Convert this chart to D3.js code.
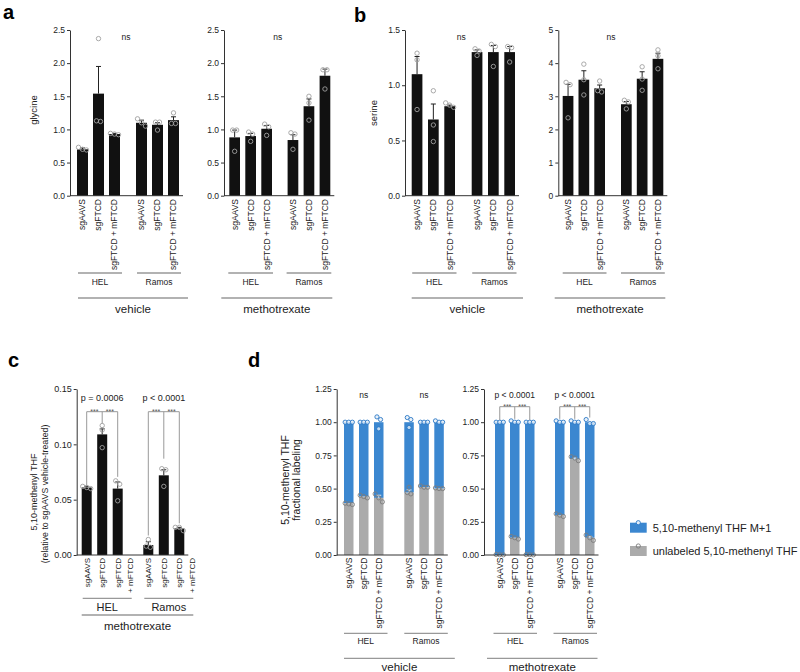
<!DOCTYPE html>
<html><head><meta charset="utf-8">
<script src="https://cdn.jsdelivr.net/npm/d3@7"></script>
<style>body{margin:0;background:#fff} svg{display:block}</style>
</head><body><svg id="c" width="800" height="672"></svg>
<script>
const conditions = ["sgAAVS","sgFTCD","sgFTCD + mFTCD"];
const cellLines = ["HEL","Ramos"];
const treatments = ["vehicle","methotrexate"];

// Panel a: glycine
const glyVehMean = [0.70, 1.54, 0.93, 1.10, 1.07, 1.14];
const glyVehErr  = [0.02, 0.41, 0.01, 0.04, 0.03, 0.05];
const glyVehPts  = [[0.73,0.70,0.69],[2.37,1.13,1.12],[0.94,0.92,0.93],[1.16,1.05,1.10],[1.11,1.11,0.99],[1.25,1.09,1.09]];
const glyMtxMean = [0.88, 0.90, 1.01, 0.84, 1.35, 1.81];
const glyMtxErr  = [0.11, 0.04, 0.05, 0.08, 0.11, 0.10];
const glyMtxPts  = [[0.99,0.99,0.67],[0.96,0.93,0.82],[1.08,1.04,0.91],[0.93,0.95,0.70],[1.50,1.40,1.14],[1.90,1.90,1.61]];
// Panel b: serine
const serVehMean = [1.10, 0.69, 0.81, 1.30, 1.30, 1.30];
const serVehErr  = [0.16, 0.14, 0.01, 0.02, 0.06, 0.05];
const serVehPts  = [[1.29,1.23,0.78],[0.95,0.64,0.49],[0.84,0.82,0.80],[1.33,1.31,1.27],[1.37,1.35,1.17],[1.35,1.34,1.21]];
const serMtxMean = [3.01, 3.50, 3.24, 2.76, 3.53, 4.13];
const serMtxErr  = [0.35, 0.27, 0.10, 0.08, 0.21, 0.17];
const serMtxPts  = [[3.42,3.35,2.35],[3.97,3.50,3.04],[3.46,3.17,3.13],[2.88,2.83,2.62],[3.89,3.52,3.18],[4.40,4.22,3.83]];
// Panel c: 5,10-methenyl THF relative
const thfMean = [0.061, 0.109, 0.060, 0.009, 0.072, 0.024];
const thfErr  = [0.001, 0.005, 0.006, 0.003, 0.005, 0.001];
const thfPts  = [[0.062,0.061,0.060],[0.117,0.113,0.097],[0.067,0.064,0.049],[0.014,0.008,0.007],[0.078,0.077,0.062],[0.025,0.025,0.022]];
// Panel d: fractional labeling (unlabeled fraction; M+1 = remainder to 1)
const unlVehMean = [0.39, 0.44, 0.43, 0.47, 0.51, 0.50];
const unlVehErr  = [0.003, 0.005, 0.02, 0.02, 0.003, 0.003];
const unlVehPts  = [[0.39,0.385,0.38],[0.45,0.44,0.43],[0.46,0.43,0.40],[0.51,0.47,0.46],[0.52,0.51,0.51],[0.505,0.50,0.50]];
const labVehPts  = [[1.0,1.0,1.0],[1.0,1.0,1.0],[1.04,1.02,0.95],[1.035,1.02,0.96],[1.0,1.0,1.0],[1.01,1.0,1.0]];
const unlMtxMean = [0.00, 0.13, 0.00, 0.30, 0.72, 0.13];
const unlMtxErr  = [0, 0.005, 0, 0.005, 0.01, 0.01];
const unlMtxPts  = [[0.004,0.002,0.001],[0.14,0.13,0.12],[0.003,0.002,0.001],[0.31,0.30,0.29],[0.74,0.73,0.71],[0.15,0.13,0.11]];
const labMtxPts  = [[1.0,1.0,1.0],[1.01,1.0,1.0],[1.0,1.0,1.0],[1.01,1.0,1.0],[1.01,1.0,1.0],[1.02,0.99,0.99]];
const legendLabels = ["5,10-methenyl THF M+1","unlabeled 5,10-methenyl THF"];

const FONT = "'Liberation Sans', Arial, Helvetica, sans-serif";
const BLUE = "#3b87d0", GREY = "#ababab";
const svg = d3.select("#c").attr("font-family", FONT);

function offsets(vals, y, sp) {
  const idx = vals.map((v,i)=>i).sort((a,b)=>y(vals[a])-y(vals[b]));
  const out = new Array(vals.length).fill(0);
  const clusters = []; let cur = [idx[0]];
  for (let k=1;k<idx.length;k++){
    if (Math.abs(y(vals[idx[k]]) - y(vals[cur[cur.length-1]])) < 4) cur.push(idx[k]);
    else { clusters.push(cur); cur=[idx[k]]; }
  }
  clusters.push(cur);
  clusters.forEach(c=>c.forEach((j,k)=>{ out[j]=(k-(c.length-1)/2)*sp; }));
  return out;
}

function drawPanel(cfg) {
  const g = svg.append("g");
  const gw = 2*cfg.step + cfg.bw;
  const x0 = d3.scaleBand().domain(cellLines)
    .range([cfg.axisX+cfg.off, cfg.axisX+cfg.off+2*gw+cfg.gap])
    .paddingInner(cfg.gap/(gw+cfg.gap)).paddingOuter(0);
  const x1 = d3.scaleBand().domain(conditions).range([0,gw])
    .paddingInner(1-cfg.bw/cfg.step).paddingOuter(0);
  const y = d3.scaleLinear().domain([0,cfg.max]).range([cfg.yBottom,cfg.yTop]);
  const bw = x1.bandwidth();
  const items = [];
  cellLines.forEach((cl,gi)=>conditions.forEach((cd,ci)=>{
    const i = gi*3+ci, left = x0(cl)+x1(cd);
    items.push({cl,cd,i,left,cx:left+bw/2});
  }));

  // y axis
  const ax = g.append("g").attr("transform",`translate(${cfg.axisX},0)`)
    .call(d3.axisLeft(y).tickValues(cfg.ticks).tickFormat(cfg.fmt).tickSize(3).tickSizeOuter(0));
  ax.attr("font-family",FONT).attr("font-size",cfg.tickFont);
  ax.select(".domain").attr("stroke","#333");
  ax.selectAll(".tick line").attr("stroke","#333");
  ax.selectAll(".tick text").attr("fill","#222").attr("x",-5);

  if (!cfg.stacked) {
    g.selectAll("rect.bar").data(items).join("rect").attr("class","bar")
      .attr("x",d=>d.left).attr("width",bw)
      .attr("y",d=>y(cfg.means[d.i])).attr("height",d=>y(0)-y(cfg.means[d.i]))
      .attr("fill","#111");
    items.forEach(d=>{
      const m = cfg.means[d.i], t = y(m+cfg.errs[d.i]);
      g.append("line").attr("x1",d.cx).attr("x2",d.cx).attr("y1",y(m)).attr("y2",t).attr("stroke","#222").attr("stroke-width",1);
      g.append("line").attr("x1",d.cx-2.5).attr("x2",d.cx+2.5).attr("y1",t).attr("y2",t).attr("stroke","#222").attr("stroke-width",1);
      const off = offsets(cfg.pts[d.i], y, 4);
      cfg.pts[d.i].forEach((v,k)=>{
        g.append("circle").attr("cx",d.cx+off[k]).attr("cy",y(v)).attr("r",2.2)
          .attr("fill","none").attr("stroke","#a0a0a0").attr("stroke-width",0.9);
      });
    });
  } else {
    items.forEach(d=>{
      const u = cfg.means[d.i];
      g.append("rect").attr("x",d.left).attr("width",bw).attr("y",y(1)).attr("height",y(u)-y(1)).attr("fill",BLUE);
      g.append("rect").attr("x",d.left).attr("width",bw).attr("y",y(u)).attr("height",y(0)-y(u)).attr("fill",GREY);
      if (cfg.errs[d.i] > 0.008) {
        const t = y(u+cfg.errs[d.i]);
        g.append("line").attr("x1",d.cx).attr("x2",d.cx).attr("y1",y(u)).attr("y2",t).attr("stroke","#f2f2f2").attr("stroke-width",0.9);
        g.append("line").attr("x1",d.cx-2.5).attr("x2",d.cx+2.5).attr("y1",t).attr("y2",t).attr("stroke","#f2f2f2").attr("stroke-width",0.9);
      }
      const offU = offsets(cfg.pts[d.i], y, 3.6);
      cfg.pts[d.i].forEach((v,k)=>{
        g.append("circle").attr("cx",d.cx+offU[k]).attr("cy",y(v)).attr("r",2.1)
          .attr("fill","none").attr("stroke","#7d7d7d").attr("stroke-width",0.9);
      });
      const offL = offsets(cfg.lab[d.i], y, 3.6);
      cfg.lab[d.i].forEach((v,k)=>{
        g.append("circle").attr("cx",d.cx+offL[k]).attr("cy",y(v)).attr("r",2.1)
          .attr("fill","#e4eef8").attr("fill-opacity",0.8).attr("stroke","#2a78c6").attr("stroke-width",0.9);
      });
    });
  }

  // x axis line
  const xEnd = x0("Ramos")+gw+4;
  g.append("line").attr("x1",cfg.axisX).attr("x2",xEnd).attr("y1",y(0)).attr("y2",y(0)).attr("stroke","#333");

  // category labels
  items.forEach(d=>{
    const lines = (cfg.twoLine && d.cd.includes("+")) ? ["sgFTCD","+ mFTCD"] : [d.cd];
    lines.forEach((ln,k)=>{
      g.append("text").attr("transform",`translate(${d.cx+0.35*cfg.catFont+k*12.4},${cfg.catY}) rotate(-90)`)
        .attr("text-anchor","end").attr("font-size",cfg.catFont).attr("fill","#222").text(ln);
    });
  });

  // group lines & labels
  cellLines.forEach(cl=>{
    const a = x0(cl)+cfg.gl[0], b = x0(cl)+gw+cfg.gl[1];
    g.append("line").attr("x1",a).attr("x2",b).attr("y1",cfg.groupLineY).attr("y2",cfg.groupLineY)
      .attr("stroke","#999").attr("stroke-width",1.3);
    g.append("text").attr("x",(a+b)/2).attr("y",cfg.groupLabelY).attr("text-anchor","middle")
      .attr("font-size",cfg.groupFont).attr("fill","#222").text(cl);
  });
  const ta = x0("HEL")+cfg.tl[0], tb = x0("Ramos")+gw+cfg.tl[1];
  g.append("line").attr("x1",ta).attr("x2",tb).attr("y1",cfg.treatLineY).attr("y2",cfg.treatLineY)
    .attr("stroke","#999").attr("stroke-width",1.3);
  g.append("text").attr("x",(ta+tb)/2).attr("y",cfg.treatLabelY).attr("text-anchor","middle")
    .attr("font-size",cfg.treatFont).attr("fill","#222").text(cfg.treatment);

  // annotations
  if (cfg.ns) {
    cfg.ns.forEach(n=>{
      const xx = n.at==="mid" ? (x0("HEL")+gw+x0("Ramos"))/2-2 : x0(n.at)+x1("sgFTCD")+bw/2;
      g.append("text").attr("x",xx).attr("y",cfg.nsY).attr("text-anchor","middle")
        .attr("font-size",cfg.nsFont).attr("fill","#222").text(n.text);
    });
  }
  if (cfg.brackets) {
    cfg.brackets.forEach(b=>{
      const its = items.filter(d=>d.cl===b.group);
      const by = cfg.bracketY;
      g.append("line").attr("x1",its[0].cx).attr("x2",its[2].cx).attr("y1",by).attr("y2",by).attr("stroke","#999");
      its.forEach((d,k)=>{
        const topVal = cfg.stacked ? Math.max(...cfg.lab[d.i]) : Math.max(...cfg.pts[d.i], cfg.means[d.i]+cfg.errs[d.i]);
        const endY = y(topVal) - (b.gaps ? b.gaps[k] : 3);
        g.append("line").attr("x1",d.cx).attr("x2",d.cx).attr("y1",by).attr("y2",endY).attr("stroke","#999");
      });
      [0,1].forEach(k=>{
        g.append("text").attr("x",(its[k].cx+its[k+1].cx)/2).attr("y",by+2.5).attr("text-anchor","middle")
          .attr("font-size",7).attr("fill","#555").text("***");
      });
      g.append("text").attr("x",its[1].cx).attr("y",cfg.pY).attr("text-anchor","middle")
        .attr("font-size",cfg.pFont).attr("fill","#222").text(b.text);
    });
  }
  return {x0,x1,y};
}

const common_ab = {tickFont:8.5, catFont:8.5, catY:199, groupLineY:273, groupLabelY:285.3, treatLineY:298,
  treatLabelY:312.8, groupFont:8.5, treatFont:11.5, yBottom:195.7, yTop:30, nsY:40, nsFont:8.5};

drawPanel(Object.assign({}, common_ab, {axisX:70, off:7, bw:11, step:16, gap:16, max:2.5,
  ticks:[0,0.5,1,1.5,2,2.5], fmt:d3.format(".1f"), means:glyVehMean, errs:glyVehErr, pts:glyVehPts,
  treatment:treatments[0], gl:[1,2], tl:[1,9], ns:[{at:"mid",text:"ns"}]}));
drawPanel(Object.assign({}, common_ab, {axisX:224, off:5.3, bw:10.7, step:16, gap:15.6, max:2.5,
  ticks:[0,0.5,1,1.5,2,2.5], fmt:d3.format(".1f"), means:glyMtxMean, errs:glyMtxErr, pts:glyMtxPts,
  treatment:treatments[1], gl:[-1,1], tl:[-8,2], ns:[{at:"mid",text:"ns"}]}));
drawPanel(Object.assign({}, common_ab, {axisX:405, off:6.7, bw:10.7, step:16.3, gap:16.7, max:1.5,
  ticks:[0,0.5,1,1.5], fmt:d3.format(".1f"), means:serVehMean, errs:serVehErr, pts:serVehPts,
  treatment:treatments[0], gl:[0.5,1.5], tl:[0,8], ns:[{at:"mid",text:"ns"}]}));
drawPanel(Object.assign({}, common_ab, {axisX:558.3, off:4.4, bw:10.7, step:15.8, gap:16, max:5,
  ticks:[0,1,2,3,4,5], fmt:d3.format("d"), means:serMtxMean, errs:serMtxErr, pts:serMtxPts,
  treatment:treatments[1], gl:[0,1.5], tl:[-8,2], ns:[{at:"mid",text:"ns"}]}));

drawPanel({axisX:76.7, off:5, bw:10, step:15.5, gap:20.6, max:0.15, ticks:[0,0.05,0.1,0.15], fmt:d3.format(".2f"),
  yBottom:555, yTop:389, means:thfMean, errs:thfErr, pts:thfPts, tickFont:9, catFont:8, catY:558, twoLine:true,
  groupLineY:598.3, groupLabelY:611, treatLineY:615, treatLabelY:630, groupFont:11, treatFont:11.5,
  treatment:treatments[1], gl:[1,9], tl:[0,9], bracketY:411.7, pY:400.5, pFont:9,
  brackets:[{group:"HEL",text:"p = 0.0006",gaps:[0,2,4]},{group:"Ramos",text:"p < 0.0001",gaps:[4,10,4]}]});

const common_d = {bw:9.5, step:15, max:1.25, ticks:[0,0.25,0.5,0.75,1,1.25], fmt:d3.format(".2f"),
  yBottom:555, yTop:389, tickFont:8.5, catFont:8.5, catY:557.5, stacked:true,
  groupLineY:633.3, groupLabelY:644.3, treatLineY:658.3, treatLabelY:671, groupFont:8.5, treatFont:11.5,
  nsY:398, nsFont:8.5, bracketY:406.7, pY:398, pFont:8.5};
drawPanel(Object.assign({}, common_d, {axisX:336.7, off:7.3, gap:20.8, means:unlVehMean, errs:unlVehErr,
  pts:unlVehPts, lab:labVehPts, treatment:treatments[0], gl:[0,4], tl:[0,11],
  ns:[{at:"HEL",text:"ns"},{at:"Ramos",text:"ns"}]}));
drawPanel(Object.assign({}, common_d, {axisX:484, off:11, gap:20.5, means:unlMtxMean, errs:unlMtxErr,
  pts:unlMtxPts, lab:labMtxPts, treatment:treatments[1], gl:[-1.5,2.5], tl:[-8,3],
  brackets:[{group:"HEL",text:"p < 0.0001",gaps:[2,2,2]},{group:"Ramos",text:"p < 0.0001",gaps:[2,2,2]}]}));

// y-axis titles
function vtext(x, y, size, txt) {
  svg.append("text").attr("transform",`translate(${x},${y}) rotate(-90)`).attr("text-anchor","middle")
    .attr("font-size",size).attr("fill","#222").text(txt);
}
vtext(36.5, 110, 9.5, "glycine");
vtext(376.5, 113, 9.5, "serine");
vtext(36.5, 492, 9, "5,10-methenyl THF");
vtext(48, 494, 8.8, "(relative to sgAAVS vehicle-treated)");
vtext(288.8, 480, 10.5, "5,10-methenyl THF");
vtext(300.4, 480, 10.5, "fractional labeling");

// panel letters
[["a",3,18.5],["b",354,22],["c",8,367],["d",248,366.5]].forEach(([t,x,yy])=>{
  svg.append("text").attr("x",x).attr("y",yy).attr("font-size",20).attr("font-weight","bold").attr("fill","#000").text(t);
});

// legend
const legColors = [BLUE, GREY], legStroke = ["#2a78c6","#7d7d7d"];
legendLabels.forEach((lab,i)=>{
  const yy = 522.7 + i*23.3;
  svg.append("rect").attr("x",630).attr("y",yy).attr("width",16.7).attr("height",10).attr("fill",legColors[i]);
  svg.append("circle").attr("cx",638.3).attr("cy",yy).attr("r",2.1).attr("fill",i===0?"#e4eef8":"none")
    .attr("stroke",legStroke[i]).attr("stroke-width",0.9);
  svg.append("text").attr("x",652.7).attr("y",yy+5).attr("dy","0.35em").attr("font-size",11).attr("fill","#222").text(lab);
});
</script></body></html>
